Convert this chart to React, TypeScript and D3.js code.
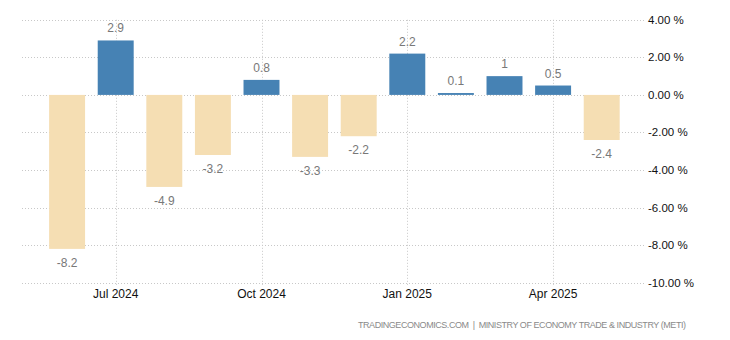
import React from "react";
import * as d3 from "d3";

const months = ["Jun 2024","Jul 2024","Aug 2024","Sep 2024","Oct 2024","Nov 2024","Dec 2024","Jan 2025","Feb 2025","Mar 2025","Apr 2025","May 2025"];
const values = [-8.2, 2.9, -4.9, -3.2, 0.8, -3.3, -2.2, 2.2, 0.1, 1, 0.5, -2.4];
const tickMonths = ["Jul 2024","Oct 2024","Jan 2025","Apr 2025"];
const yTicks = [4, 2, 0, -2, -4, -6, -8, -10];
const sourceText = "TRADINGECONOMICS.COM  |  MINISTRY OF ECONOMY TRADE & INDUSTRY (METI)";

const W = 730, H = 340;
const gridLeft = 22, gridRight = 645;

export default function App() {
  const x = d3.scaleBand<string>().domain(months).range([42.8, 626.0]).paddingInner(0.26).paddingOuter(0.13);
  const y = d3.scaleLinear().domain([-10, 4]).range([282.7, 19.8]);
  const font = "'Liberation Sans', Arial, sans-serif";
  return (
    <svg width={W} height={H} style={{ position: "absolute", left: 0, top: 0 }}>
      <rect width={W} height={H} fill="#fff" />
      {yTicks.map(t => (
        <line key={"h" + t} x1={gridLeft} x2={gridRight} y1={Math.round(y(t)) + 0.5} y2={Math.round(y(t)) + 0.5}
          stroke="#c8c8c8" strokeWidth={1} strokeDasharray="1,2" />
      ))}
      {tickMonths.map(m => {
        const cx = Math.round((x(m) as number) + x.bandwidth() / 2) + 0.5;
        return (
          <line key={"v" + m} x1={cx} x2={cx} y1={y(4)} y2={y(-10) + 4}
            stroke="#c8c8c8" strokeWidth={1} strokeDasharray="1,2" />
        );
      })}
      {values.map((v, i) => {
        const m = months[i];
        const y0 = y(0), y1 = y(v);
        return (
          <rect key={"b" + m} x={x(m)} width={x.bandwidth()} y={Math.min(y0, y1)} height={Math.abs(y1 - y0)}
            fill={v >= 0 ? "#4682b4" : "#f5deb3"} />
        );
      })}
      {values.map((v, i) => {
        const m = months[i];
        const cx = (x(m) as number) + x.bandwidth() / 2;
        const ty = v >= 0 ? y(v) - 8 : y(v) + 18;
        return (
          <text key={"l" + m} x={cx} y={ty} textAnchor="middle" fontFamily={font} fontSize={12} fill="#787878">{String(v)}</text>
        );
      })}
      {yTicks.map(t => (
        <text key={"yl" + t} x={648} y={y(t)} dy="0.35em" fontFamily={font} fontSize={11.5} fill="#111">
          {t.toFixed(2) + " %"}
        </text>
      ))}
      {tickMonths.map(m => (
        <text key={"xl" + m} x={(x(m) as number) + x.bandwidth() / 2} y={297.5} textAnchor="middle" fontFamily={font} fontSize={12} fill="#111">{m}</text>
      ))}
      <text x={686} y={327.5} textAnchor="end" fontFamily={font} fontSize={9} fill="#8a8a8a" textLength={328} lengthAdjust="spacing" style={{ whiteSpace: "pre" }}>{sourceText}</text>
    </svg>
  );
}
